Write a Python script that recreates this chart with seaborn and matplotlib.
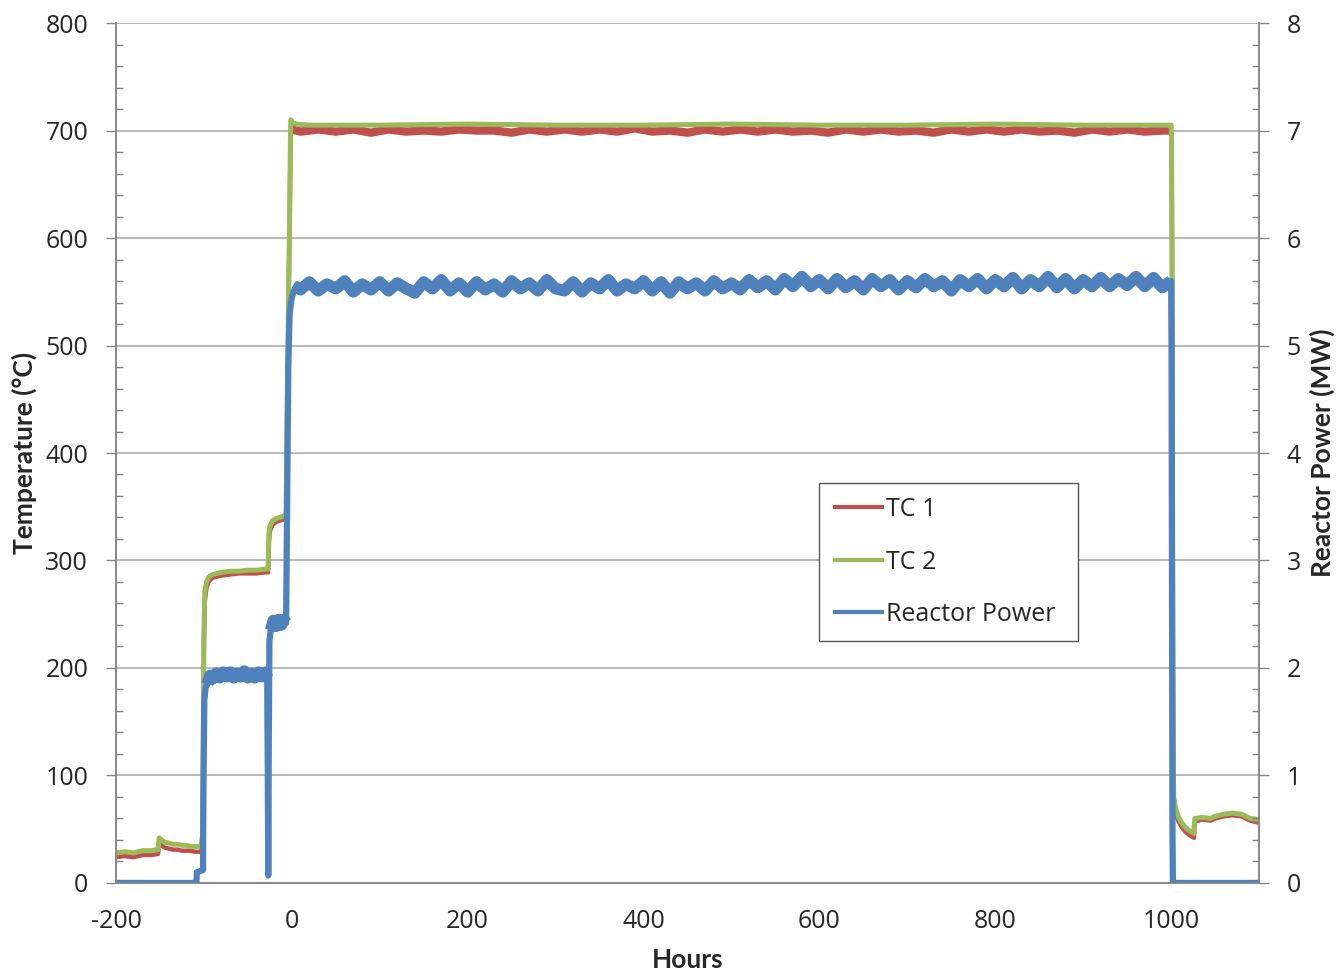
import matplotlib
matplotlib.use("Agg")
import matplotlib.pyplot as plt
from matplotlib.ticker import MultipleLocator
import seaborn as sns
import pandas as pd

# values
tc2_hours = [-200, -190, -180, -170, -160, -152, -151, -148, -145, -140, -135, -130, -125, -120,
             -115, -110, -105, -103, -102, -101, -100.5, -100, -99, -97, -94, -90, -80, -70,
             -60, -50, -40, -30, -27.5, -27, -26.5, -26, -25, -22, -18, -14, -10, -8, -6.5,
             -5, -3.5, -2.5, -1.5, -1, 0, 5, 20, 100, 200, 300, 400, 500, 600, 700, 800, 900,
             1000, 1000.5, 1001, 1001.5, 1002, 1002.5, 1003, 1005, 1008, 1012, 1016, 1020,
             1024, 1026, 1026.5, 1027, 1035, 1045, 1050, 1060, 1070, 1080, 1085, 1090, 1100]
tc2_temp = [28, 29, 28, 30, 30, 31, 42, 40, 38, 37, 36, 36, 35, 35,
            34, 34, 34, 36, 42, 45, 160, 230, 270, 280, 285, 287, 289, 290,
            290, 291, 291, 292, 292, 292, 310, 325, 332, 337, 339, 340, 341, 342, 345,
            450, 560, 620, 700, 710, 707, 706, 705, 705, 706, 705, 705, 706, 705, 705, 706, 705,
            705, 690, 600, 400, 200, 110, 80, 70, 62, 56, 52, 49,
            47, 46, 56, 60, 61, 60, 62, 64, 65, 64, 62, 60, 59]

tc1_hours = [-200, -190, -180, -170, -160, -152, -151, -148, -145, -140, -135, -130, -125, -120,
             -115, -110, -105, -102, -101, -100.5, -100, -99, -97, -94, -90, -80, -70,
             -60, -50, -40, -30, -27.5, -27, -26.5, -26, -25, -22, -18, -14, -10, -8, -6.5,
             -5, -3.5, -2.5, -1.5, -1, 0, 10, 30, 50, 70, 90, 110, 130, 150, 170, 190, 210,
             230, 250, 270, 290, 310, 330, 350, 370, 390, 410, 430, 450, 470, 490, 510, 530,
             550, 570, 590, 610, 630, 650, 670, 690, 710, 730, 750, 770, 790, 810, 830, 850,
             870, 890, 910, 930, 950, 970, 990,
             1000, 1000.5, 1001, 1001.5, 1002, 1002.5, 1003, 1005, 1008, 1012, 1016, 1020,
             1024, 1026, 1026.5, 1027, 1035, 1045, 1050, 1060, 1070, 1080, 1085, 1090, 1100]
tc1_temp = [24, 25, 24, 26, 26, 27, 37, 35, 33, 32, 31, 31, 30, 30,
            30, 29, 29, 31, 33, 150, 220, 262, 275, 281, 284, 286, 287,
            288, 288, 288, 289, 289, 289, 300, 318, 327, 333, 336, 337, 338, 339, 340,
            440, 550, 610, 690, 700, 701, 699, 701, 699, 701, 698, 701, 699, 700, 699, 701, 700,
            700, 698, 701, 699, 701, 699, 701, 699, 702, 699, 700, 698, 701, 699, 701, 699,
            701, 699, 700, 698, 701, 699, 701, 699, 700, 698, 701, 699, 701, 699, 701, 699,
            700, 698, 701, 699, 701, 699, 700,
            700, 680, 590, 390, 190, 100, 75, 66, 58, 52, 48, 45,
            43, 42, 53, 57, 59, 58, 60, 62, 63, 62, 60, 58, 56]

power_hours = [-200, -108.5, -108, -101, -100.5, -99.5, -98, -96, -93, -90, -86, -82, -78, -74,
               -70, -66, -62, -58, -54, -50, -46, -42, -38, -34, -30, -28, -27.3, -26.8, -26.3,
               -25.5, -24, -21, -18, -15, -12, -9, -6.5, -5.5, -4, -2.5, 0, 3, 6,
               10, 20, 30, 40, 50, 60, 70, 80, 90, 100,
               110, 120, 130, 140, 150, 160, 170, 180, 190, 200,
               210, 220, 230, 240, 250, 260, 270, 280, 290, 300,
               310, 320, 330, 340, 350, 360, 370, 380, 390, 400,
               410, 420, 430, 440, 450, 460, 470, 480, 490, 500,
               510, 520, 530, 540, 550, 560, 570, 580, 590, 600,
               610, 620, 630, 640, 650, 660, 670, 680, 690, 700,
               710, 720, 730, 740, 750, 760, 770, 780, 790, 800,
               810, 820, 830, 840, 850, 860, 870, 880, 890, 900,
               910, 920, 930, 940, 950, 960, 970, 980, 990, 1000,
               1000.5, 1001, 1001.5, 1002, 1100]
power_mw = [0, 0, 0.1, 0.12, 0.9, 1.7, 1.82, 1.85, 1.93, 1.90, 1.95, 1.91, 1.96, 1.92,
            1.96, 1.91, 1.95, 1.92, 1.97, 1.91, 1.95, 1.91, 1.96, 1.92, 1.96, 1.91, 1.0, 0.07, 1.2,
            2.25, 2.35, 2.44, 2.39, 2.45, 2.40, 2.45, 2.42, 3.4, 4.8, 5.3, 5.45, 5.52, 5.57,
            5.52, 5.59, 5.51, 5.57, 5.53, 5.60, 5.50, 5.57, 5.52, 5.59,
            5.51, 5.58, 5.53, 5.49, 5.59, 5.53, 5.61, 5.51, 5.58, 5.50,
            5.59, 5.52, 5.57, 5.50, 5.60, 5.53, 5.58, 5.51, 5.61, 5.53,
            5.51, 5.59, 5.50, 5.58, 5.53, 5.61, 5.51, 5.57, 5.53, 5.60,
            5.51, 5.59, 5.49, 5.59, 5.53, 5.58, 5.51, 5.60, 5.53, 5.58,
            5.52, 5.61, 5.54, 5.60, 5.52, 5.62, 5.55, 5.64, 5.55, 5.61,
            5.53, 5.62, 5.54, 5.60, 5.52, 5.62, 5.55, 5.61, 5.52, 5.60,
            5.54, 5.62, 5.55, 5.60, 5.51, 5.61, 5.55, 5.62, 5.53, 5.61,
            5.55, 5.63, 5.53, 5.61, 5.55, 5.64, 5.54, 5.62, 5.53, 5.61,
            5.55, 5.63, 5.55, 5.62, 5.56, 5.64, 5.55, 5.63, 5.54, 5.60,
            5.0, 2.5, 0.5, 0, 0]

legend_labels = ["TC 1", "TC 2", "Reactor Power"]

red = "#C0504D"
green = "#9BBB59"
blue = "#4F81BD"
axis_gray = "#868686"

sns.set_style("white")
plt.rcParams["font.family"] = ["Open Sans", "DejaVu Sans"]
plt.rcParams["axes.unicode_minus"] = False

tc1 = pd.DataFrame({"hours": tc1_hours, "temp": tc1_temp})
tc2 = pd.DataFrame({"hours": tc2_hours, "temp": tc2_temp})
power = pd.DataFrame({"hours": power_hours, "mw": power_mw})

fig = plt.figure(figsize=(13.39, 9.72), dpi=100)
ax = fig.add_axes([0.0866, 0.0916, 0.8537, 0.8847])
ax2 = ax.twinx()

line_kw = dict(sort=False, legend=False, solid_capstyle="butt")
sns.lineplot(data=tc1, x="hours", y="temp", ax=ax, color=red, linewidth=3.2, **line_kw)
# noisy plateau drawn as a thicker band
seg = tc1[(tc1.hours >= 0) & (tc1.hours <= 1000)]
sns.lineplot(data=seg, x="hours", y="temp", ax=ax, color=red, linewidth=6, **line_kw)
sns.lineplot(data=tc2, x="hours", y="temp", ax=ax, color=green, linewidth=3.6, **line_kw)

sns.lineplot(data=power, x="hours", y="mw", ax=ax2, color=blue, linewidth=4.5, **line_kw)
for lo, hi in [(-96, -28), (-24, -6.5), (6, 1000)]:
    seg = power[(power.hours >= lo) & (power.hours <= hi)]
    sns.lineplot(data=seg, x="hours", y="mw", ax=ax2, color=blue, linewidth=8.5, **line_kw)

ax.set_xlim(-200, 1100)
ax.set_ylim(0, 800)
ax2.set_ylim(0, 8)

ax.xaxis.set_major_locator(MultipleLocator(200))
ax.xaxis.set_minor_locator(MultipleLocator(40))
ax.yaxis.set_major_locator(MultipleLocator(100))
ax.yaxis.set_minor_locator(MultipleLocator(20))
ax2.yaxis.set_major_locator(MultipleLocator(1))
ax2.yaxis.set_minor_locator(MultipleLocator(0.2))

ax.grid(axis="y", which="major", color="#A6A6A6", linewidth=1.1)
ax.set_axisbelow(True)

for a in (ax, ax2):
    for side in a.spines.values():
        side.set_color(axis_gray)
        side.set_linewidth(1.1)
ax.spines["top"].set_visible(False)
ax2.spines["top"].set_visible(False)

ax.tick_params(axis="x", which="major", direction="inout", length=14, width=1, color=axis_gray,
               labelsize=18, pad=12)
ax.tick_params(axis="x", which="minor", direction="in", length=5, width=1, color=axis_gray)
ax.tick_params(axis="y", which="major", direction="out", length=7, width=1, color=axis_gray,
               labelsize=18, pad=13)
ax.tick_params(axis="y", which="minor", direction="in", length=5, width=1, color=axis_gray)
ax2.tick_params(axis="y", which="major", direction="out", length=7, width=1, color=axis_gray,
                labelsize=18, pad=13)
ax2.tick_params(axis="y", which="minor", direction="in", length=5, width=1, color=axis_gray)

label_font = dict(family=["Lato", "DejaVu Sans"], fontweight="bold", fontsize=19)
ax.set_xlabel("Hours", labelpad=10, **label_font)
ax.set_ylabel("Temperature (°C)", labelpad=6, **label_font)
ax2.set_ylabel("Reactor Power (MW)", labelpad=6, **label_font)

handles = [ax.get_lines()[0], ax.get_lines()[2], ax2.get_lines()[0]]
leg = ax2.legend(handles=handles, labels=legend_labels,
                 loc="lower left", bbox_to_anchor=(0.615, 0.2814, 0.2267, 0.1814), mode="expand",
                 fontsize=18, frameon=True, fancybox=False, shadow=False, framealpha=1,
                 edgecolor="#555555", labelspacing=1.1, handlelength=2.05,
                 handletextpad=0.1, borderpad=0.55, borderaxespad=0)
leg.get_frame().set_linewidth(1.0)
for line in leg.get_lines():
    line.set_linewidth(3)

fig.savefig("out.png", dpi=100)
